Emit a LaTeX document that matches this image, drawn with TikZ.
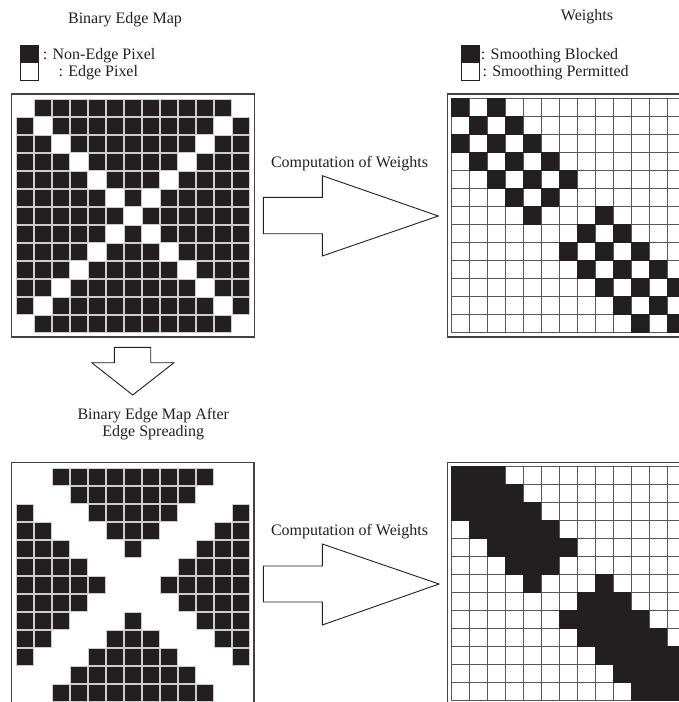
\documentclass[tikz,border=0pt]{standalone}
\usepackage{fontspec}
\setmainfont{Liberation Serif}
\definecolor{ink}{HTML}{231F20}
\begin{document}
\begin{tikzpicture}[x=1pt,y=-1pt,
  lbl/.style={text=ink,font=\fontsize{16}{19}\selectfont,inner sep=0pt},
  frame/.style={draw=ink!85,line width=1.2pt},
  blackcell/.style={fill=ink,draw=gray!40,line width=0.5pt},
  gridline/.style={draw=ink!75,line width=0.9pt},
  blockarrow/.style={draw=ink,line width=0.9pt,fill=white,line join=miter}]
\useasboundingbox (0,0) rectangle (679,702);
\clip (0,0) rectangle (679,702);

% ---------- titles and legends ----------
\node[lbl,anchor=base] (t1) at (125,23.3) {Binary Edge Map};
\node[lbl,anchor=base] (t2) at (587,20) {Weights};
\draw[fill=ink,draw=ink,line width=0.8pt] (20.7,45) rectangle (38.3,62.7);
\draw[fill=white,draw=ink,line width=0.8pt] (20.7,62.7) rectangle (38.3,80.7);
\node[lbl,anchor=base west] (l1) at (42.7,59) {: Non-Edge Pixel};
\node[lbl,anchor=base west] (l2) at (58.3,76) {: Edge Pixel};
\draw[fill=ink,draw=ink,line width=0.8pt] (461,45) rectangle (479.3,62.7);
\draw[fill=white,draw=ink,line width=0.8pt] (461,62.7) rectangle (479.3,80.7);
\node[lbl,anchor=base west] (l3) at (480.7,59) {: Smoothing Blocked};
\node[lbl,anchor=base west] (l4) at (482.3,76) {: Smoothing Permitted};

% ---------- top-left: binary edge map ----------
\draw[frame] (11.7,94) rectangle (254.7,337);
\foreach \r in {0,...,12}{
  \foreach \c in {0,...,12}{
    \ifnum\c=\r\relax\else
      \ifnum\numexpr\c+\r\relax=12\relax\else
        \draw[blackcell] ({16+18*\c},{99+18*\r}) rectangle ++(17,17);
      \fi
    \fi
  }
}

% ---------- bottom-left: after edge spreading ----------
\draw[frame] (11.7,462.3) rectangle (254,706);
\foreach \r in {0,...,12}{
  \foreach \c in {0,...,12}{
    \pgfmathtruncatemacro{\da}{abs(\c-\r)}
    \pgfmathtruncatemacro{\db}{abs(\c+\r-12)}
    \ifnum\da>1\relax
      \ifnum\db>1\relax
        \draw[blackcell] ({16+18*\c},{468.3+18*\r}) rectangle ++(17,17);
      \fi
    \fi
  }
}

% ---------- top-right: weights ----------
\draw[frame] (447.3,94) rectangle (689,337);
\foreach \k in {0,...,13}{
  \draw[gridline] ({451+18*\k},98.3) -- ({451+18*\k},332.3);
  \draw[gridline] (451,{98.3+18*\k}) -- (685,{98.3+18*\k});
}
\foreach \row [count=\i from 0] in {{0,2},{1,3},{0,2,4},{1,3,5},{2,4,6},{3,5},{4,8},{7,9},{6,8,10},{7,9,11},{8,10,12},{9,11},{10,12}}{
  \foreach \c in \row {
    \fill[ink] ({451+18*\c-0.45},{98.3+18*\i-0.45}) rectangle ++(18.9,18.9);
  }
}

% ---------- bottom-right: weights after spreading ----------
\draw[frame] (447.3,462.3) rectangle (689,706);
\foreach \k in {0,...,13}{
  \draw[gridline] ({451+18*\k},466.7) -- ({451+18*\k},700.7);
  \draw[gridline] (451,{466.7+18*\k}) -- (685,{466.7+18*\k});
}
\foreach \row [count=\i from 0] in {{0,1,2},{0,1,2,3},{0,1,2,3,4},{1,2,3,4,5},{2,3,4,5,6},{3,4,5},{4,8},{7,8,9},{6,7,8,9,10},{7,8,9,10,11},{8,9,10,11,12},{9,10,11,12},{10,11,12}}{
  \foreach \c in \row {
    \fill[ink] ({451+18*\c-0.45},{466.7+18*\i-0.45}) rectangle ++(18.9,18.9);
  }
}

% ---------- block arrows ----------
\node[lbl,anchor=base] (cw1) at (349.5,167.3) {Computation of Weights};
\draw[blockarrow] (263.3,197.3) -- (322.3,197.3) -- (322.3,175.7) -- (438.3,216)
  -- (322.3,256) -- (322.3,233.7) -- (263.3,233.7) -- cycle;

\node[lbl,anchor=base] (cw2) at (349.5,535.7) {Computation of Weights};
\draw[blockarrow] (263.3,566) -- (322.3,566) -- (322.3,544) -- (439,584)
  -- (322.3,625) -- (322.3,602) -- (263.3,602) -- cycle;

\draw[blockarrow] (114.3,347.3) -- (150.7,347.3) -- (150.7,362.7) -- (174,362.7)
  -- (132.7,395) -- (91.7,362.7) -- (114.3,362.7) -- cycle;
\node[lbl,anchor=base] (s1) at (153.3,419.3) {Binary Edge Map After};
\node[lbl,anchor=base] (s2) at (153.3,436.7) {Edge Spreading};
\end{tikzpicture}
\end{document}
